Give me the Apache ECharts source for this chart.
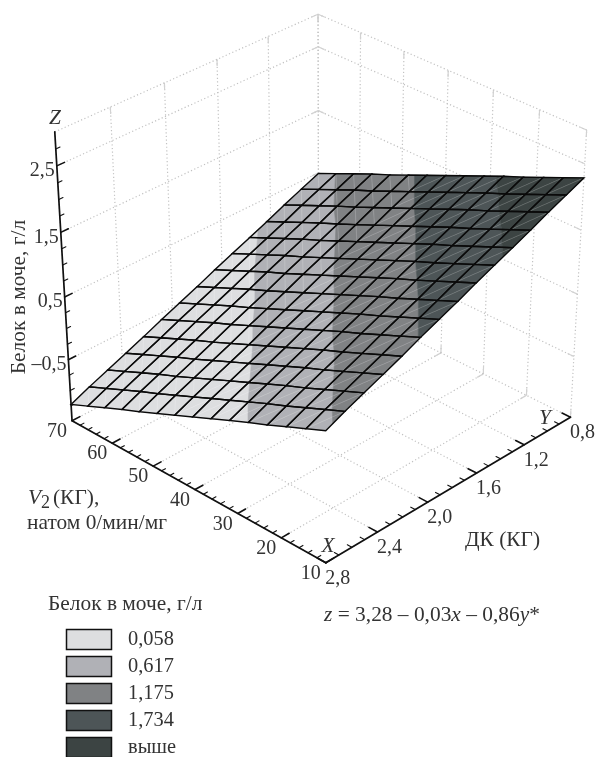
<!DOCTYPE html>
<html><head><meta charset="utf-8"><style>html,body{margin:0;background:#fff}#c{width:599px;height:757px}</style>
<script src="https://cdn.jsdelivr.net/npm/echarts@6/dist/echarts.min.js"></script></head><body><div id="c"></div>
<script>
// ---------- data ----------
const xTicks=[10,20,30,40,50,60,70];
const xTickLabels=['10','20','30','40','50','60','70'];
const yTicks=[0.8,1.2,1.6,2.0,2.4,2.8];
const yTickLabels=['0,8','1,2','1,6','2,0','2,4','2,8'];
const zTicks=[-0.5,0.5,1.5,2.5];
const zTickLabels=['–0,5','0,5','1,5','2,5'];
const surfaceX=[10,14.29,18.57,22.86,27.14,31.43,35.71,40,44.29,48.57,52.86,57.14,61.43,65.71,70];
const surfaceY=[0.8,0.943,1.086,1.229,1.371,1.514,1.657,1.8,1.943,2.086,2.229,2.371,2.514,2.657,2.8];
const surfaceZ=[
[2.29,2.16,2.03,1.90,1.78,1.65,1.52,1.39,1.26,1.13,1.00,0.88,0.75,0.62,0.49],
[2.17,2.04,1.91,1.78,1.66,1.53,1.40,1.27,1.14,1.01,0.88,0.76,0.63,0.50,0.37],
[2.05,1.92,1.79,1.66,1.54,1.41,1.28,1.15,1.02,0.89,0.76,0.64,0.51,0.38,0.25],
[1.92,1.79,1.66,1.53,1.41,1.28,1.15,1.02,0.89,0.76,0.63,0.51,0.38,0.25,0.12],
[1.80,1.67,1.54,1.41,1.29,1.16,1.03,0.90,0.77,0.64,0.51,0.39,0.26,0.13,0.00],
[1.68,1.55,1.42,1.29,1.17,1.04,0.91,0.78,0.65,0.52,0.39,0.27,0.14,0.01,-0.12],
[1.56,1.43,1.30,1.17,1.05,0.92,0.79,0.66,0.53,0.40,0.27,0.15,0.02,-0.11,-0.24],
[1.43,1.30,1.17,1.04,0.92,0.79,0.66,0.53,0.40,0.27,0.14,0.02,-0.11,-0.24,-0.37],
[1.31,1.18,1.05,0.92,0.80,0.67,0.54,0.41,0.28,0.15,0.02,-0.10,-0.23,-0.36,-0.49],
[1.19,1.06,0.93,0.80,0.68,0.55,0.42,0.29,0.16,0.03,-0.10,-0.22,-0.35,-0.48,-0.61],
[1.06,0.93,0.80,0.67,0.55,0.42,0.29,0.16,0.03,-0.10,-0.23,-0.35,-0.48,-0.61,-0.74],
[0.94,0.81,0.68,0.55,0.43,0.30,0.17,0.04,-0.09,-0.22,-0.35,-0.47,-0.60,-0.73,-0.86],
[0.82,0.69,0.56,0.43,0.31,0.18,0.05,-0.08,-0.21,-0.34,-0.47,-0.59,-0.72,-0.85,-0.98],
[0.70,0.57,0.44,0.31,0.19,0.06,-0.07,-0.20,-0.33,-0.46,-0.59,-0.71,-0.84,-0.97,-1.10],
[0.57,0.44,0.31,0.18,0.06,-0.07,-0.20,-0.33,-0.46,-0.59,-0.72,-0.84,-0.97,-1.10,-1.23]];
const bandLevels=[0.058,0.617,1.175,1.734];
const bandLabels=['0,058','0,617','1,175','1,734','выше'];
const bandColors=['#dddee0','#b0b1b6','#808284','#4d5557','#3c4443'];
const xRange=[10,70], yRange=[0.8,2.8], zRange=[-1.5,3];

// ---------- view settings ----------
const FONT='"Liberation Serif","Times New Roman",serif', FS=20, FW=21.4, TXT='#333333';
// perspective camera of the 3D box (normalised box coords -> page)
const CAM=[[-232.8809,-265.9941,-20.5989,570.4779],[-107.7243,108.6812,-295.3525,417.2130],[0.0594,-0.0655,-0.0627,1]];
function project(X,Y,Z){
  const u=(X-xRange[0])/(xRange[1]-xRange[0]),v=(Y-yRange[0])/(yRange[1]-yRange[0]),w=(Z-zRange[0])/(zRange[1]-zRange[0]);
  const r=CAM.map(c=>c[0]*u+c[1]*v+c[2]*w+c[3]);
  return [r[0]/r[2],r[1]/r[2]];
}
const X0=xRange[0],X1=xRange[1],Y0=yRange[0],Y1=yRange[1],Z0=zRange[0],Z1=zRange[1];
const P=(api,p)=>{const q=project(p[0],p[1],p[2]);return api.coord(q);};

// wall and floor grid segments: [a,b,stubAtA,stubAtB]
const gridSegs=[];
yTicks.forEach(y=>gridSegs.push([[X1,y,Z0],[X1,y,Z1],y!==Y1,y!==Y1]));
xTicks.forEach(x=>gridSegs.push([[x,Y0,Z0],[x,Y0,Z1],true,true]));
[...zTicks,Z1].forEach(z=>{
  gridSegs.push([[X1,Y1,z],[X1,Y0,z],false,true]);
  gridSegs.push([[X1,Y0,z],[X0,Y0,z],true,true]);
});
xTicks.forEach(x=>gridSegs.push([[x,Y1,Z0],[x,Y0,Z0],false,true]));
yTicks.forEach(y=>gridSegs.push([[X0,y,Z0],[X1,y,Z0],false,true]));

// axes and tick marks
const axisSegs=[[[X1,Y1,Z0],[X1,Y1,Z1]],[[X1,Y1,Z0],[X0,Y1,Z0]],[[X0,Y1,Z0],[X0,Y0,Z0]]];
for(let k=0;k<=30;k++){const x=10+2*k;const major=k%5===0;const d=major?0.06:0.03;
  axisSegs.push([[x,Y1,Z0],[x,Y1-d,Z0],major]);}
for(let k=0;k<=20;k++){const y=0.8+0.1*k;const major=k%4===0;const d=major?1.9:1.0;
  axisSegs.push([[X0,y,Z0],[X0+d,y,Z0],major]);}
for(let k=1;k<=17;k++){const z=-1.5+0.25*k;const major=k%4===0;const d=major?0.055:0.03;
  axisSegs.push([[X1,Y1,z],[X1,Y1-d,z],major]);}

// tick labels
const texts=[];
xTicks.forEach((x,i)=>texts.push({p:[x,Y1,Z0],dx:-15,dy:11,t:xTickLabels[i],a:'center'}));
yTicks.forEach((y,i)=>texts.push({p:[X0,y,Z0],dx:12,dy:16,t:yTickLabels[i],a:'center'}));
zTicks.forEach((z,i)=>texts.push({p:[X1,Y1,z],dx:-2,dy:5,t:zTickLabels[i],a:'right'}));

// clip a polygon to one side of a z level (vertices are [x,y,z])
function clip(poly,lim,keepAbove){
  const out=[];
  for(let i=0;i<poly.length;i++){
    const a=poly[i],b=poly[(i+1)%poly.length];
    const ia=keepAbove?a[2]>=lim:a[2]<=lim, ib=keepAbove?b[2]>=lim:b[2]<=lim;
    if(ia)out.push(a);
    if(ia!==ib){const t=(lim-a[2])/(b[2]-a[2]);out.push([a[0]+t*(b[0]-a[0]),a[1]+t*(b[1]-a[1]),lim]);}
  }
  return out;
}
const cells=[];
for(let i=0;i<surfaceY.length-1;i++)for(let j=0;j<surfaceX.length-1;j++)cells.push([i,j]);
const V=(i,j)=>[surfaceX[j],surfaceY[i],surfaceZ[i][j]];

function renderCell(params,api){
  const [i,j]=cells[params.dataIndex];
  const a=V(i,j),b=V(i,j+1),c=V(i+1,j+1),d=V(i+1,j);
  const longSeam=j<8;
  const tris=longSeam?[[a,b,c],[a,c,d]]:[[a,b,d],[b,c,d]];
  const kids=[];
  tris.forEach(tri=>{
    bandColors.forEach((col,k)=>{
      let poly=tri;
      if(k>0)poly=clip(poly,bandLevels[k-1],true);
      if(k<bandLevels.length&&poly.length)poly=clip(poly,bandLevels[k],false);
      if(poly.length>2)kids.push({type:'polygon',shape:{points:poly.map(p=>P(api,p))},style:{fill:col,stroke:col,lineWidth:0.6}});
    });
  });
  const s0=P(api,longSeam?a:b),s1=P(api,longSeam?c:d);
  kids.push({type:'line',shape:{x1:s0[0],y1:s0[1],x2:s1[0],y2:s1[1]},style:{stroke:'rgba(255,255,255,0.2)',lineWidth:0.8}});
  return {type:'group',children:kids};
}
function renderCellLines(params,api){
  const [i,j]=cells[params.dataIndex];
  const a=P(api,V(i,j)),b=P(api,V(i,j+1)),c=P(api,V(i+1,j+1)),d=P(api,V(i+1,j));
  return {type:'polygon',shape:{points:[a,b,c,d]},style:{fill:'none',stroke:'#0a0a0a',lineWidth:1.4}};
}
function renderGrid(params,api){
  const s=gridSegs[params.dataIndex],a=P(api,s[0]),b=P(api,s[1]);
  const kids=[{type:'line',shape:{x1:a[0],y1:a[1],x2:b[0],y2:b[1]},style:{stroke:'#c2c2c2',lineWidth:1.2,lineDash:[1.2,2.4]}}];
  const L=Math.hypot(b[0]-a[0],b[1]-a[1]),ux=(b[0]-a[0])/L,uy=(b[1]-a[1])/L,sl=7;
  if(s[2])kids.push({type:'line',shape:{x1:a[0],y1:a[1],x2:a[0]+ux*sl,y2:a[1]+uy*sl},style:{stroke:'#d2d2d2',lineWidth:1.2}});
  if(s[3])kids.push({type:'line',shape:{x1:b[0],y1:b[1],x2:b[0]-ux*sl,y2:b[1]-uy*sl},style:{stroke:'#d2d2d2',lineWidth:1.2}});
  return {type:'group',children:kids};
}
function renderAxis(params,api){
  const s=axisSegs[params.dataIndex],a=P(api,s[0]),b=P(api,s[1]);
  const w=s.length===2?1.7:(s[2]?1.6:1.1);
  return {type:'line',shape:{x1:a[0],y1:a[1],x2:b[0],y2:b[1]},style:{stroke:'#111',lineWidth:w,lineCap:'round'}};
}
function renderText(params,api){
  const t=texts[params.dataIndex],q=P(api,t.p);
  return {type:'text',x:q[0]+t.dx,y:q[1]+t.dy,style:{text:t.t,font:FS+'px '+FONT,fill:TXT,align:t.a,verticalAlign:'middle'}};
}
const ids=a=>a.map((_,i)=>[i]);
const custom=(data,fn,z)=>({type:'custom',coordinateSystem:'cartesian2d',data:ids(data),renderItem:fn,z,clip:false,silent:true,animation:false,encode:{x:0,y:0}});

// free text and legend
const T=(text,x,y,o={})=>Object.assign({type:'text',x,y,z:20,silent:true,style:Object.assign({text,font:(o.italic?'italic ':'')+(o.fs||FW)+'px '+FONT,fill:TXT,align:o.align||'left',verticalAlign:'middle'},o.style||{})},o.el||{});
const graphics=[
  T('Z',55,118,{italic:true,align:'center'}),
  T('Y',545,418,{italic:true,align:'center'}),
  T('X',328,546,{italic:true,align:'center'}),
  T('Белок в моче, г/л',19,297,{align:'center',el:{rotation:Math.PI/2}}),
  T('V',28,498,{italic:true}),
  T('2',41,503,{fs:18}),
  T('(КГ),',53,498),
  T('натом 0/мин/мг',27,523),
  T('ДК (КГ)',465,540),
  {type:'text',x:324,y:615,z:20,silent:true,style:{text:'{i|z} = 3,28 – 0,03{i|x} – 0,86{i|y}*',font:FW+'px '+FONT,fill:TXT,verticalAlign:'middle',rich:{i:{font:'italic '+FW+'px '+FONT,fill:TXT}}}},
  T('Белок в моче, г/л',48,604)
];
bandLabels.forEach((t,i)=>{
  graphics.push({type:'rect',z:20,silent:true,shape:{x:66.5,y:629.5+27*i,width:45,height:20},style:{fill:bandColors[i],stroke:'#111',lineWidth:1.5}});
  graphics.push(T(t,128,640+26.8*i,{fs:20.4}));
});

const chart=echarts.init(document.getElementById('c'));
chart.setOption({
  animation:false,
  grid:{left:0,right:0,top:0,bottom:0},
  xAxis:{type:'value',min:0,max:599,show:false},
  yAxis:{type:'value',min:0,max:757,inverse:true,show:false},
  series:[custom(gridSegs,renderGrid,1),custom(axisSegs,renderAxis,3),custom(cells,renderCell,4),custom(cells,renderCellLines,5),custom(texts,renderText,6)],
  graphic:graphics
});
</script></body></html>
